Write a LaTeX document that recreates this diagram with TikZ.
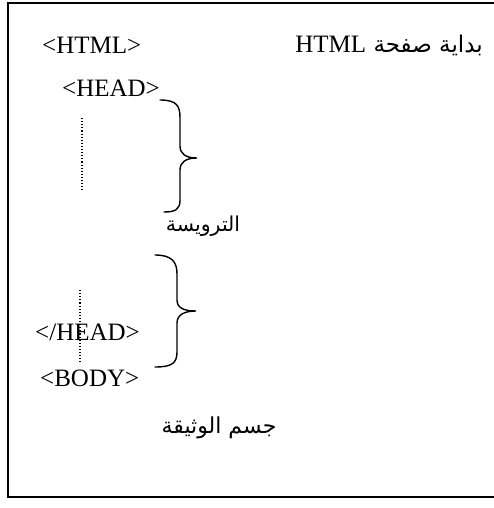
\documentclass[tikz,border=0pt]{standalone}
\usepackage{fontspec}
\setmainfont{Liberation Serif}
\newfontfamily\arabicfont[Script=Arabic]{DejaVu Sans}
\TeXXeTstate=1
\begin{document}
\begin{tikzpicture}[x=1pt,y=-1pt,
  tag/.style={inner sep=0pt,font=\fontsize{25}{28}\selectfont},
  ar/.style={inner sep=0pt,font=\arabicfont\fontsize{#1}{24}\selectfont},
  ar/.default=21,
  frame/.style={line width=1.4pt},
  bracestyle/.style={line width=1.4pt,line cap=round},
  dots/.style={line width=1.1pt,dotted}]
\useasboundingbox (0,0) rectangle (494,508);
\draw[frame] (494,3) -- (8,3) -- (8,497) -- (494,497);
\node[tag,anchor=west] (html) at (42,45) {<HTML>};
\node[ar=23,anchor=east] (title) at (483,45) {\beginR بداية صفحة \beginL{\rmfamily\fontsize{25}{28}\selectfont HTML}\endL\endR};
\node[tag,anchor=west] (head) at (62,88) {<HEAD>};
\draw[dots] (82,118) -- (82,192);
\draw[bracestyle] (160,100) .. controls (177,100) and (180,106) .. (180,118) -- (180,146)
  .. controls (180,154) and (186,158) .. (197,158)
  .. controls (186,158) and (180,162) .. (180,170) -- (180,200)
  .. controls (180,209) and (176,212) .. (164,212);
\node[ar=20.5] (tarwisa) at (203,226) {\beginR الترويسة\endR};
\draw[bracestyle] (155,255) .. controls (172,255) and (177,262) .. (177,274) -- (177,300)
  .. controls (177,308) and (184,311) .. (196,311)
  .. controls (184,311) and (177,315) .. (177,323) -- (177,352)
  .. controls (177,363) and (172,367) .. (155,367);
\draw[dots] (80,290) -- (80,363);
\node[tag,anchor=west] (headclose) at (35,332) {</HEAD>};
\node[tag,anchor=west] (body) at (40,378) {<BODY>};
\node[ar=22] (jism) at (219,428) {\beginR جسم الوثيقة\endR};
\end{tikzpicture}
\end{document}
